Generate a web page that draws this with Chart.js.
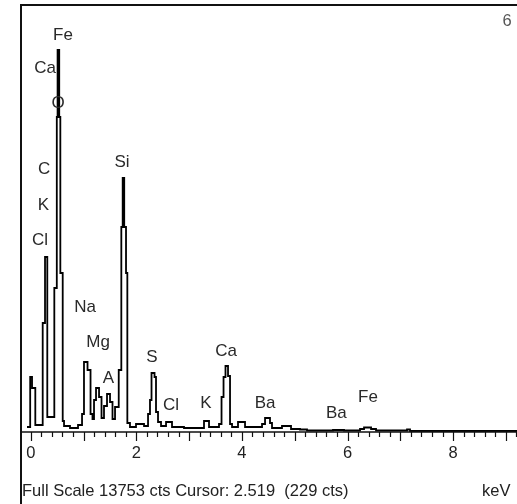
<!DOCTYPE html>
<html>
<head>
<meta charset="utf-8">
<script src="https://cdn.jsdelivr.net/npm/chart.js@4.4.0/dist/chart.umd.min.js"></script>
<style>
  html, body { margin: 0; padding: 0; background: #fff; }
  canvas { display: block; }
</style>
</head>
<body>
<canvas id="eds" width="517" height="504"></canvas>
<script>
// EDS spectrum: start of each step (keV) and its counts
const energies = [-0.07, -0.01, 0.025, 0.087, 0.227, 0.271, 0.314, 0.447, 0.494, 0.509, 0.54, 0.561, 0.606, 0.631,
  0.744, 0.896, 0.972, 1.009, 1.076, 1.133, 1.17, 1.199, 1.237, 1.294, 1.341, 1.388, 1.445, 1.502, 1.549, 1.597,
  1.667, 1.716, 1.742, 1.771, 1.805, 1.83, 1.88, 1.994, 2.146, 2.222, 2.259, 2.288, 2.345, 2.373, 2.411, 2.468,
  2.563, 2.676, 2.903, 3.282, 3.377, 3.566, 3.614, 3.652, 3.689, 3.737, 3.775, 3.813, 3.926, 4.059, 4.381, 4.438,
  4.532, 4.57, 4.759, 4.93, 5.1, 5.233, 5.725, 5.934, 6.237, 6.313, 6.446, 6.54, 7.127, 7.184, 9.21]
const counts = [161, 1772, 1417, 225, 3511, 5637, 483, 4638, 10146, 12304, 10146, 5121, 354, 193,
  129, 225, 580, 2255, 1997, 580, 419, 1031, 1417, 1127, 451, 837, 1224, 966, 419, 805,
  1997, 6603, 8181, 6603, 5121, 290, 161, 258, 193, 580, 1031, 1900, 1772, 644, 322, 193,
  322, 161, 129, 354, 161, 258, 1127, 1772, 2126, 1804, 258, 161, 322, 161, 258, 451,
  290, 129, 193, 97, 81, 48, 64, 48, 97, 145, 97, 48, 81, 32, 16]

// element labels, placed in keV / counts
const peakNames = ['Fe', 'Ca', 'O', 'C', 'K', 'Cl', 'Si', 'Na', 'Mg', 'A', 'S', 'Cl', 'K', 'Ca', 'Ba', 'Ba', 'Fe']
const peakKeV = [0.612, 0.271, 0.517, 0.252, 0.242, 0.176, 1.729, 1.028, 1.275, 1.473, 2.297, 2.657, 3.32, 3.699, 4.438, 5.79, 6.388]
const peakCts = [12787, 11724, 10597, 8471, 7312, 6184, 8697, 4026, 2899, 1739, 2416, 870, 934, 2609, 934, 612, 1127]

const tickLabels = ['0', '2', '4', '6', '8']
const fullScale = 13753
const statusText = 'Full Scale 13753 cts Cursor: 2.519  (229 cts)'

const font = '"Liberation Sans", Arial, sans-serif'

const framePlugin = {
  id: 'frame',
  afterDraw(chart) {
    const ctx = chart.ctx
    const xs = chart.scales.x
    const ys = chart.scales.y
    const area = chart.chartArea
    ctx.save()
    ctx.strokeStyle = '#111'
    // outer frame
    ctx.lineWidth = 2
    ctx.beginPath()
    ctx.moveTo(area.left, chart.height)
    ctx.lineTo(area.left, area.top)
    ctx.lineTo(chart.width, area.top)
    ctx.stroke()
    // energy axis
    ctx.lineWidth = 1.6
    ctx.beginPath()
    ctx.moveTo(area.left, area.bottom)
    ctx.lineTo(area.right, area.bottom)
    ctx.stroke()
    // ticks every 0.2 keV, longer each keV
    ctx.lineWidth = 1.2
    for (let i = 0; i <= 46; i++) {
      const px = Math.round(xs.getPixelForValue(i * 0.2)) + 0.5
      const len = i % 5 === 0 ? 9 : 5
      ctx.beginPath()
      ctx.moveTo(px, area.bottom)
      ctx.lineTo(px, area.bottom + len)
      ctx.stroke()
    }
    // tick labels
    ctx.fillStyle = '#222'
    ctx.font = '16.5px ' + font
    ctx.textAlign = 'center'
    ctx.textBaseline = 'middle'
    tickLabels.forEach(t => {
      ctx.fillText(t, xs.getPixelForValue(Number(t)), area.bottom + 21)
    })
    // peak labels
    ctx.font = '17px ' + font
    ctx.fillStyle = '#2a2a2a'
    peakNames.forEach((n, i) => {
      ctx.fillText(n, xs.getPixelForValue(peakKeV[i]), ys.getPixelForValue(peakCts[i]))
    })
    // status line
    ctx.font = '16.5px ' + font
    ctx.fillStyle = '#222'
    ctx.textAlign = 'left'
    ctx.fillText(statusText, area.left + 1, area.bottom + 59)
    ctx.fillText('keV', 482, area.bottom + 59)
    ctx.fillStyle = '#555'
    ctx.textAlign = 'center'
    ctx.fillText('6', 507, area.top + 16)
    ctx.restore()
  }
}

new Chart(document.getElementById('eds'), {
  type: 'line',
  data: {
    datasets: [{
      data: energies.map((e, i) => ({ x: e, y: counts[i] })),
      borderColor: '#000',
      borderWidth: 1.8,
      pointRadius: 0,
      fill: false,
      stepped: true
    }]
  },
  options: {
    responsive: false,
    animation: false,
    events: [],
    layout: { padding: { left: 21, right: 0, top: 5, bottom: 72 } },
    scales: {
      x: { type: 'linear', min: -0.184, max: 9.21, display: false },
      y: { min: 0, max: fullScale, display: false }
    },
    plugins: { legend: { display: false }, tooltip: { enabled: false } }
  },
  plugins: [framePlugin]
})
</script>
</body>
</html>
